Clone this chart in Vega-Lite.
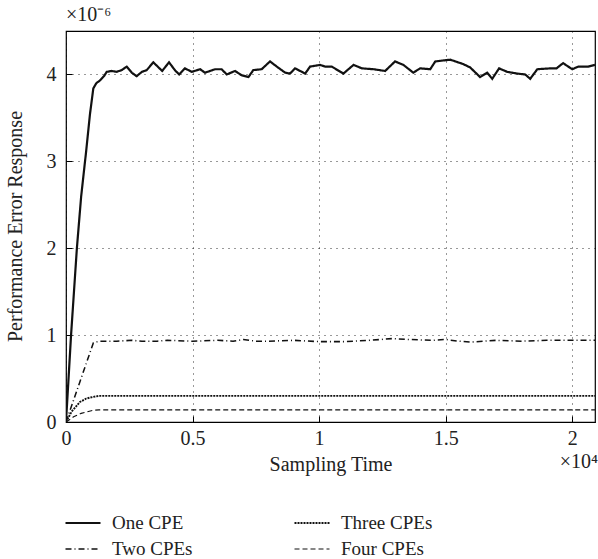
{
  "$schema": "https://vega.github.io/schema/vega-lite/v6.json",
  "width": 529,
  "height": 391,
  "autosize": {"type": "none"},
  "padding": {"left": 66, "top": 31, "right": 3, "bottom": 137},
  "config": {
    "font": "Liberation Serif",
    "view": {"stroke": "#000", "strokeWidth": 1.2},
    "axis": {
      "labelFont": "Liberation Serif", "labelFontSize": 20, "labelColor": "#222",
      "titleFont": "Liberation Serif", "titleFontSize": 20, "titleFontWeight": "normal", "titleColor": "#222",
      "domain": false, "tickColor": "#000", "tickSize": -6, "tickWidth": 1,
      "grid": true, "gridColor": "#000", "gridDash": [1, 5], "gridOpacity": 0.8, "gridWidth": 1
    },
    "legend": {"labelFont": "Liberation Serif", "labelFontSize": 20, "labelColor": "#222"}
  },
  "datasets": {
    "curves": [
      {"time": 0, "series": "One CPE", "error": 0},
      {"time": 200, "series": "One CPE", "error": 1.0},
      {"time": 430, "series": "One CPE", "error": 2.0},
      {"time": 600, "series": "One CPE", "error": 2.6},
      {"time": 790, "series": "One CPE", "error": 3.1},
      {"time": 950, "series": "One CPE", "error": 3.55},
      {"time": 1080, "series": "One CPE", "error": 3.84},
      {"time": 1200, "series": "One CPE", "error": 3.9},
      {"time": 1340, "series": "One CPE", "error": 3.93},
      {"time": 1500, "series": "One CPE", "error": 3.98},
      {"time": 1610, "series": "One CPE", "error": 4.03},
      {"time": 1800, "series": "One CPE", "error": 4.04},
      {"time": 2000, "series": "One CPE", "error": 4.03},
      {"time": 2200, "series": "One CPE", "error": 4.05},
      {"time": 2400, "series": "One CPE", "error": 4.09},
      {"time": 2600, "series": "One CPE", "error": 4.02},
      {"time": 2790, "series": "One CPE", "error": 3.98},
      {"time": 3000, "series": "One CPE", "error": 4.03},
      {"time": 3190, "series": "One CPE", "error": 4.05},
      {"time": 3450, "series": "One CPE", "error": 4.14},
      {"time": 3800, "series": "One CPE", "error": 4.04},
      {"time": 4070, "series": "One CPE", "error": 4.14},
      {"time": 4300, "series": "One CPE", "error": 4.05},
      {"time": 4470, "series": "One CPE", "error": 4.0},
      {"time": 4700, "series": "One CPE", "error": 4.07},
      {"time": 4970, "series": "One CPE", "error": 4.03},
      {"time": 5300, "series": "One CPE", "error": 4.06},
      {"time": 5490, "series": "One CPE", "error": 4.02},
      {"time": 5890, "series": "One CPE", "error": 4.06},
      {"time": 6150, "series": "One CPE", "error": 4.06},
      {"time": 6350, "series": "One CPE", "error": 4.0},
      {"time": 6680, "series": "One CPE", "error": 4.04},
      {"time": 6940, "series": "One CPE", "error": 3.99},
      {"time": 7210, "series": "One CPE", "error": 3.97},
      {"time": 7400, "series": "One CPE", "error": 4.05},
      {"time": 7730, "series": "One CPE", "error": 4.06},
      {"time": 8060, "series": "One CPE", "error": 4.15},
      {"time": 8330, "series": "One CPE", "error": 4.09},
      {"time": 8660, "series": "One CPE", "error": 4.02},
      {"time": 8850, "series": "One CPE", "error": 4.01},
      {"time": 9050, "series": "One CPE", "error": 4.07},
      {"time": 9250, "series": "One CPE", "error": 4.04},
      {"time": 9450, "series": "One CPE", "error": 4.01},
      {"time": 9640, "series": "One CPE", "error": 4.09},
      {"time": 10040, "series": "One CPE", "error": 4.11},
      {"time": 10240, "series": "One CPE", "error": 4.09},
      {"time": 10500, "series": "One CPE", "error": 4.09},
      {"time": 10960, "series": "One CPE", "error": 4.01},
      {"time": 11360, "series": "One CPE", "error": 4.11},
      {"time": 11690, "series": "One CPE", "error": 4.07},
      {"time": 12150, "series": "One CPE", "error": 4.06},
      {"time": 12610, "series": "One CPE", "error": 4.04},
      {"time": 13000, "series": "One CPE", "error": 4.15},
      {"time": 13330, "series": "One CPE", "error": 4.11},
      {"time": 13720, "series": "One CPE", "error": 4.02},
      {"time": 13990, "series": "One CPE", "error": 4.07},
      {"time": 14390, "series": "One CPE", "error": 4.06},
      {"time": 14590, "series": "One CPE", "error": 4.15},
      {"time": 15180, "series": "One CPE", "error": 4.17},
      {"time": 15690, "series": "One CPE", "error": 4.12},
      {"time": 15970, "series": "One CPE", "error": 4.08},
      {"time": 16360, "series": "One CPE", "error": 3.97},
      {"time": 16640, "series": "One CPE", "error": 4.02},
      {"time": 16840, "series": "One CPE", "error": 3.95},
      {"time": 17110, "series": "One CPE", "error": 4.07},
      {"time": 17430, "series": "One CPE", "error": 4.03},
      {"time": 17830, "series": "One CPE", "error": 4.01},
      {"time": 18140, "series": "One CPE", "error": 4.0},
      {"time": 18340, "series": "One CPE", "error": 3.95},
      {"time": 18620, "series": "One CPE", "error": 4.06},
      {"time": 19130, "series": "One CPE", "error": 4.07},
      {"time": 19380, "series": "One CPE", "error": 4.07},
      {"time": 19640, "series": "One CPE", "error": 4.13},
      {"time": 20000, "series": "One CPE", "error": 4.06},
      {"time": 20240, "series": "One CPE", "error": 4.09},
      {"time": 20630, "series": "One CPE", "error": 4.09},
      {"time": 20900, "series": "One CPE", "error": 4.11},

      {"time": 0, "series": "Two CPEs", "error": 0},
      {"time": 1080, "series": "Two CPEs", "error": 0.91},
      {"time": 1300, "series": "Two CPEs", "error": 0.93},
      {"time": 2000, "series": "Two CPEs", "error": 0.93},
      {"time": 2600, "series": "Two CPEs", "error": 0.94},
      {"time": 3000, "series": "Two CPEs", "error": 0.93},
      {"time": 3600, "series": "Two CPEs", "error": 0.93},
      {"time": 4000, "series": "Two CPEs", "error": 0.94},
      {"time": 5000, "series": "Two CPEs", "error": 0.93},
      {"time": 6000, "series": "Two CPEs", "error": 0.94},
      {"time": 6600, "series": "Two CPEs", "error": 0.93},
      {"time": 7000, "series": "Two CPEs", "error": 0.95},
      {"time": 7500, "series": "Two CPEs", "error": 0.93},
      {"time": 8000, "series": "Two CPEs", "error": 0.93},
      {"time": 9000, "series": "Two CPEs", "error": 0.94},
      {"time": 10000, "series": "Two CPEs", "error": 0.925},
      {"time": 11000, "series": "Two CPEs", "error": 0.925},
      {"time": 12000, "series": "Two CPEs", "error": 0.94},
      {"time": 12900, "series": "Two CPEs", "error": 0.96},
      {"time": 13500, "series": "Two CPEs", "error": 0.95},
      {"time": 14500, "series": "Two CPEs", "error": 0.94},
      {"time": 15000, "series": "Two CPEs", "error": 0.95},
      {"time": 15500, "series": "Two CPEs", "error": 0.93},
      {"time": 16000, "series": "Two CPEs", "error": 0.92},
      {"time": 17000, "series": "Two CPEs", "error": 0.94},
      {"time": 18000, "series": "Two CPEs", "error": 0.93},
      {"time": 19000, "series": "Two CPEs", "error": 0.94},
      {"time": 20000, "series": "Two CPEs", "error": 0.94},
      {"time": 20900, "series": "Two CPEs", "error": 0.94},

      {"time": 0, "series": "Three CPEs", "error": 0},
      {"time": 225, "series": "Three CPEs", "error": 0.12},
      {"time": 550, "series": "Three CPEs", "error": 0.23},
      {"time": 800, "series": "Three CPEs", "error": 0.27},
      {"time": 1080, "series": "Three CPEs", "error": 0.29},
      {"time": 1300, "series": "Three CPEs", "error": 0.3},
      {"time": 5000, "series": "Three CPEs", "error": 0.3},
      {"time": 10000, "series": "Three CPEs", "error": 0.3},
      {"time": 15000, "series": "Three CPEs", "error": 0.3},
      {"time": 20900, "series": "Three CPEs", "error": 0.3},

      {"time": 0, "series": "Four CPEs", "error": 0},
      {"time": 300, "series": "Four CPEs", "error": 0.06},
      {"time": 600, "series": "Four CPEs", "error": 0.1},
      {"time": 1080, "series": "Four CPEs", "error": 0.135},
      {"time": 1300, "series": "Four CPEs", "error": 0.14},
      {"time": 10000, "series": "Four CPEs", "error": 0.14},
      {"time": 20900, "series": "Four CPEs", "error": 0.14}
    ],
    "xnote": [{"time": 20900, "error": 0, "label": "×10⁴"}],
    "ynote": [{"time": 0, "error": 4.5, "label": "×10⁻⁶"}]
  },
  "layer": [
    {
      "data": {"name": "curves"},
      "mark": {"type": "line", "color": "#111", "clip": true},
      "encoding": {
        "x": {
          "field": "time", "type": "quantitative", "title": "Sampling Time",
          "scale": {"domain": [0, 20900], "nice": false, "zero": false},
          "axis": {"values": [0, 5000, 10000, 15000, 20000], "labelExpr": "datum.value / 10000", "labelPadding": 12, "titlePadding": 6, "labelFlush": false}
        },
        "y": {
          "field": "error", "type": "quantitative", "title": "Performance Error Response",
          "scale": {"domain": [0, 4.5], "nice": false},
          "axis": {"values": [0, 1, 2, 3, 4], "format": "d", "labelPadding": 16, "labelFlush": false, "titleX": -51, "titleY": 195, "titleBaseline": "middle", "titleAlign": "center", "titleAngle": -90}
        },
        "strokeDash": {
          "field": "series", "type": "nominal",
          "scale": {"domain": ["One CPE", "Three CPEs", "Two CPEs", "Four CPEs"], "range": [[1, 0], [2, 1], [6, 3, 1, 3], [5, 3]]},
          "legend": {"title": null, "orient": "none", "legendX": -2, "legendY": 479, "direction": "horizontal", "columns": 2, "symbolType": "stroke", "symbolSize": 1225, "symbolStrokeWidth": 1.2, "symbolStrokeColor": "#111", "labelOffset": 10, "labelFontSize": 19, "columnPadding": 100, "rowPadding": 0, "clipHeight": 26}
        },
        "strokeWidth": {
          "field": "series", "type": "nominal",
          "scale": {"domain": ["One CPE", "Three CPEs", "Two CPEs", "Four CPEs"], "range": [2.2, 1.2, 1.2, 1.2]},
          "legend": null
        },
        "detail": {"field": "series"}
      }
    },
    {
      "data": {"name": "xnote"},
      "mark": {"type": "text", "fontSize": 20, "font": "Liberation Serif", "color": "#222", "baseline": "middle", "align": "right", "dx": 3, "dy": 40},
      "encoding": {
        "x": {"field": "time", "type": "quantitative"},
        "y": {"field": "error", "type": "quantitative"},
        "text": {"field": "label"}
      }
    },
    {
      "data": {"name": "ynote"},
      "mark": {"type": "text", "fontSize": 20, "font": "Liberation Serif", "color": "#222", "baseline": "middle", "align": "left", "dx": 0, "dy": -16},
      "encoding": {
        "x": {"field": "time", "type": "quantitative"},
        "y": {"field": "error", "type": "quantitative"},
        "text": {"field": "label"}
      }
    }
  ]
}
